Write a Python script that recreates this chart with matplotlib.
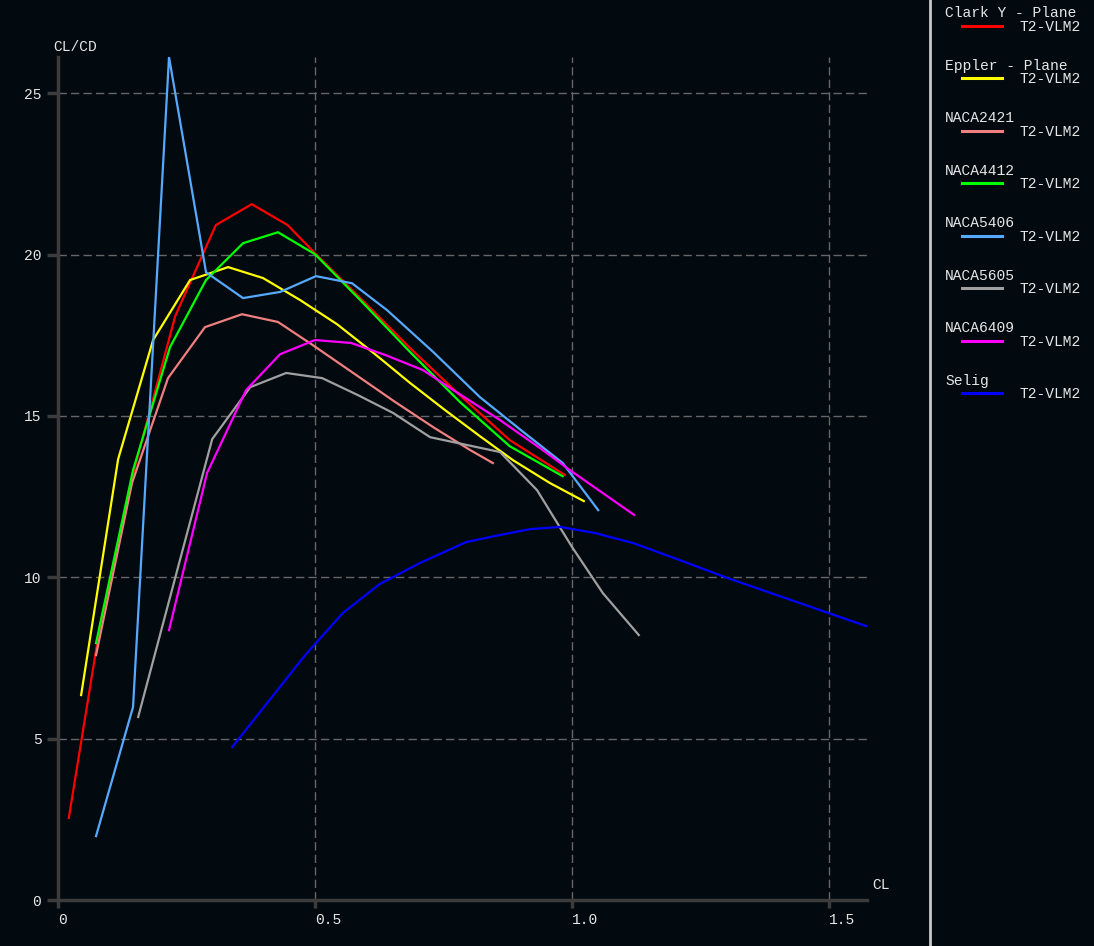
import matplotlib
matplotlib.use("Agg")
import matplotlib.pyplot as plt
import matplotlib.transforms as mtransforms

# CL vs CL/CD for each airfoil
clark_cl = [0.021, 0.082, 0.150, 0.228, 0.307, 0.377, 0.447, 0.500, 0.588, 0.685, 0.782, 0.879, 0.986]
clark_ld = [2.54, 8.52, 13.44, 18.09, 20.91, 21.56, 20.91, 20.04, 18.65, 17.10, 15.64, 14.25, 13.17]

eppler_cl = [0.045, 0.117, 0.185, 0.257, 0.331, 0.399, 0.471, 0.543, 0.617, 0.685, 0.753, 0.821, 0.885, 0.957, 1.023]
eppler_ld = [6.35, 13.66, 17.35, 19.21, 19.61, 19.27, 18.59, 17.84, 16.91, 16.02, 15.18, 14.37, 13.63, 12.92, 12.36]

n2421_cl = [0.074, 0.144, 0.214, 0.286, 0.358, 0.428, 0.496, 0.578, 0.656, 0.733, 0.802, 0.846]
n2421_ld = [7.59, 12.92, 16.17, 17.75, 18.15, 17.91, 17.19, 16.29, 15.43, 14.62, 13.94, 13.54]

n4412_cl = [0.074, 0.146, 0.218, 0.288, 0.360, 0.428, 0.500, 0.588, 0.685, 0.782, 0.879, 0.982]
n4412_ld = [7.96, 13.32, 17.13, 19.21, 20.35, 20.69, 20.01, 18.59, 16.98, 15.43, 14.06, 13.13]

n5406_cl = [0.074, 0.146, 0.216, 0.288, 0.360, 0.432, 0.502, 0.572, 0.640, 0.730, 0.821, 0.903, 0.982, 1.051]
n5406_ld = [1.98, 5.98, 26.12, 19.45, 18.65, 18.84, 19.33, 19.11, 18.28, 16.98, 15.58, 14.53, 13.54, 12.08]

n5605_cl = [0.156, 0.228, 0.300, 0.374, 0.444, 0.514, 0.584, 0.652, 0.724, 0.860, 0.932, 1.000, 1.060, 1.130]
n5605_ld = [5.67, 9.98, 14.28, 15.89, 16.33, 16.17, 15.64, 15.09, 14.34, 13.88, 12.70, 10.94, 9.51, 8.21]

n6409_cl = [0.216, 0.290, 0.366, 0.432, 0.500, 0.570, 0.638, 0.710, 0.772, 0.860, 0.938, 0.996, 1.121]
n6409_ld = [8.36, 13.23, 15.80, 16.91, 17.35, 17.26, 16.88, 16.42, 15.77, 14.87, 14.00, 13.32, 11.93]

selig_cl = [0.339, 0.481, 0.554, 0.626, 0.704, 0.794, 0.860, 0.918, 0.977, 1.045, 1.119, 1.210, 1.302, 1.572]
selig_ld = [4.74, 7.59, 8.89, 9.79, 10.44, 11.09, 11.31, 11.49, 11.56, 11.37, 11.06, 10.53, 9.98, 8.49]

names = ["Clark Y - Plane", "Eppler - Plane", "NACA2421", "NACA4412",
         "NACA5406", "NACA5605", "NACA6409", "Selig"]
series = [(clark_cl, clark_ld), (eppler_cl, eppler_ld), (n2421_cl, n2421_ld),
          (n4412_cl, n4412_ld), (n5406_cl, n5406_ld), (n5605_cl, n5605_ld),
          (n6409_cl, n6409_ld), (selig_cl, selig_ld)]
colors = ["#ff0000", "#ffff00", "#f08080", "#00ff00", "#55aaff", "#a0a0a0", "#ff00ff", "#0000ff"]
run_name = "T2-VLM2"

xticks = [0, 0.5, 1.0, 1.5]
xticklabels = ["0", "0.5", "1.0", "1.5"]
yticks = [0, 5, 10, 15, 20, 25]

bg = "#02090f"
fg = "#e6e6e6"
axis_col = "#3c3c3c"
W, H = 1094, 946

plt.rcParams['font.family'] = ['Liberation Mono', 'DejaVu Sans Mono']
plt.rcParams['font.size'] = 10.5

fig = plt.figure(figsize=(W / 100, H / 100), dpi=100, facecolor=bg)

# main plot area, positioned in pixels
ax = fig.add_axes([58 / W, (H - 900) / H, (867 - 58) / W, (900 - 57) / H], facecolor=bg)
for (cl, ld), c in zip(series, colors):
    ax.plot(cl, ld, color=c, lw=1.6, solid_joinstyle='miter')

ax.set_xlim(0, 1.574)
ax.set_ylim(0, 26.12)
ax.set_xticks(xticks)
ax.set_xticklabels(xticklabels)
ax.set_yticks(yticks)
shift = mtransforms.ScaledTranslation(-3 / 100, 0, fig.dpi_scale_trans)
for lbl in ax.get_xticklabels():
    lbl.set_ha('left')
    lbl.set_transform(lbl.get_transform() + shift)
ax.tick_params(axis='x', direction='out', length=6, width=2.5, color=axis_col, labelcolor=fg, pad=3)
ax.tick_params(axis='y', direction='out', length=8, width=2.5, color=axis_col, labelcolor=fg, pad=4)
for s in ['top', 'right']:
    ax.spines[s].set_visible(False)
for s in ['left', 'bottom']:
    ax.spines[s].set_color(axis_col)
    ax.spines[s].set_linewidth(2.5)
ax.set_axisbelow(True)
ax.grid(True, color='#666666', lw=1, ls=(0, (6, 3)))

fig.text(53 / W, 1 - 47 / H, "CL/CD", color=fg, va='center', ha='left')
fig.text(872 / W, 1 - 885 / H, "CL", color=fg, va='center', ha='left')

# legend panel on the right
lax = fig.add_axes([930 / W, 0, (W - 930) / W, 1], facecolor=bg)
lax.set_xlim(930, W)
lax.set_ylim(H, 0)
lax.set_xticks([])
lax.set_yticks([])
for s in ['top', 'right', 'bottom']:
    lax.spines[s].set_visible(False)
lax.spines['left'].set_color('#c8c8c8')
lax.spines['left'].set_linewidth(2)

for i, (nm, c) in enumerate(zip(names, colors)):
    y0 = 13.3 + i * 52.5
    lax.text(945, y0, nm, color=fg, va='center', ha='left')
    lax.plot([962, 1002], [y0 + 12.5, y0 + 12.5], color=c, lw=2.2)
    lax.text(1019, y0 + 13.5, run_name, color=fg, va='center', ha='left')

fig.savefig("out.png", dpi=100, facecolor=bg)
